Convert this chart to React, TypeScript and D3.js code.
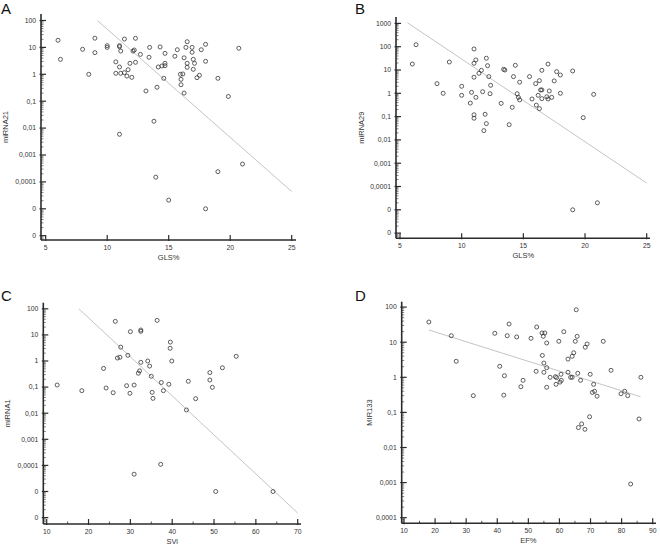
import * as d3 from "d3";

// ---- data ----
const glsA = [6.0, 6.2, 8.0, 8.5, 9.0, 9.0, 10.0, 10.0, 11.0, 11.0, 11.1, 10.7, 11.0, 10.7, 11.1, 11.4, 11.4, 11.6, 11.7, 11.85, 12.0, 12.1, 12.2, 12.3, 12.3, 12.7, 13.15, 13.4, 13.45, 13.8, 14.05, 14.15, 14.3, 14.45, 14.6, 14.7, 14.7, 14.7, 15.5, 15.7, 15.95, 16.0, 16.0, 16.15, 16.25, 16.25, 16.4, 16.5, 16.5, 16.5, 16.9, 16.9, 17.0, 17.1, 17.0, 17.5, 17.3, 17.65, 18.0, 18.0, 19.0, 19.85, 20.7, 11.0, 13.95, 15.0, 18.0, 19.0, 21.0];
const mirna21 = [18.4, 3.6, 8.5, 1.0, 22, 6.4, 11.6, 10, 11.6, 10.6, 7.3, 2.9, 1.87, 1.09, 1.09, 20.5, 1.15, 0.86, 1.48, 2.56, 0.77, 7.3, 8.0, 21.8, 2.8, 5.5, 0.24, 4.3, 10, 0.018, 0.33, 1.87, 10.4, 2.04, 0.71, 6.0, 2.56, 2.09, 4.7, 8.2, 1.0, 0.65, 0.41, 1.03, 4.1, 0.2, 10, 16.3, 2.56, 1.82, 10, 6.6, 3.6, 2.56, 1.53, 0.92, 0.75, 8.2, 13, 3.04, 0.71, 0.15, 9.3, 0.0059, 1.5e-4, 2.1e-5, 1.0e-5, 2.4e-4, 4.6e-4];
const fitXA = [9.2, 25];
const fitYA = [100, 4.4e-5];

const glsB = [6.0, 6.3, 8.0, 8.5, 9.0, 10.0, 10.0, 10.7, 10.8, 11.0, 11.0, 11.0, 11.15, 11.15, 11.0, 11.0, 11.4, 11.6, 11.7, 11.8, 11.9, 12.0, 12.1, 12.2, 12.0, 12.35, 12.3, 13.2, 13.4, 13.5, 13.85, 14.1, 14.2, 14.35, 14.5, 14.6, 14.7, 14.7, 15.5, 15.7, 16.0, 16.05, 16.2, 16.3, 16.3, 16.4, 16.5, 16.5, 16.5, 16.9, 17.0, 17.0, 17.1, 17.3, 17.5, 17.7, 18.0, 18.0, 19.0, 19.85, 20.7, 19.0, 21.0];
const mirna29 = [18, 122, 2.6, 1.0, 22, 2.0, 0.82, 0.38, 1.1, 80, 19.4, 4.9, 27, 0.67, 0.12, 0.085, 7.2, 9.7, 1.17, 0.025, 0.126, 32, 15.3, 5.2, 0.05, 2.2, 0.96, 0.37, 10.7, 10, 0.045, 0.25, 5.2, 15.9, 0.96, 0.67, 0.52, 3.0, 5.2, 0.57, 2.6, 0.31, 0.82, 3.5, 0.22, 1.39, 1.39, 9.7, 0.59, 0.71, 18, 0.57, 1.26, 0.67, 3.4, 8.5, 6.1, 1.0, 9.1, 0.09, 0.9, 1e-5, 2e-5];
const fitXB = [5.6, 25];
const fitYB = [1070, 1.4e-4];

const sviC = [12.5, 18.4, 23.6, 24.2, 25.9, 26.4, 26.9, 27.5, 27.7, 29.1, 29.4, 29.9, 30.0, 30.9, 31.9, 32.2, 32.5, 32.5, 32.5, 34.15, 34.6, 35.0, 35.2, 35.4, 36.4, 37.4, 37.9, 39.2, 39.55, 39.5, 39.9, 43.4, 43.85, 45.6, 49.0, 49.0, 49.6, 52.0, 55.3, 30.9, 37.25, 50.4, 64.1];
const mirna1 = [0.12, 0.073, 0.52, 0.092, 0.061, 33, 1.3, 1.39, 3.4, 0.113, 1.65, 0.058, 13.3, 0.12, 0.34, 0.42, 15.4, 13.7, 0.89, 1.0, 0.64, 0.26, 0.063, 0.037, 36, 0.15, 0.073, 0.128, 5.3, 3.07, 1.0, 0.0133, 0.167, 0.036, 0.36, 0.187, 0.098, 0.55, 1.51, 4.6e-5, 1.1e-4, 1e-5, 1e-5];
const fitXC = [17.7, 70];
const fitYC = [100, 1.5e-6];

const efD = [18.0, 25.2, 26.8, 32.3, 39.2, 40.8, 42.1, 42.3, 43.2, 43.8, 46.25, 47.6, 48.3, 50.85, 52.5, 52.7, 54.4, 54.8, 55.3, 54.5, 55.0, 55.0, 55.9, 55.9, 55.9, 57.0, 58.7, 58.9, 59.1, 59.8, 60.2, 60.5, 60.6, 61.4, 62.75, 62.75, 63.6, 64.1, 64.1, 64.6, 65.1, 65.4, 65.7, 65.9, 66.8, 68.3, 68.9, 69.9, 70.6, 71.0, 71.3, 72.1, 69.7, 74.1, 76.6, 79.8, 81.0, 81.95, 85.6, 86.2, 66.1, 67.15, 68.2, 82.9];
const mir133 = [37.6, 15.3, 2.86, 0.3, 17.9, 2.06, 0.31, 1.11, 15.3, 33, 14.1, 0.54, 0.82, 12.9, 1.48, 27.1, 18.3, 14.7, 18.3, 4.2, 2.55, 1.39, 9.5, 1.88, 0.52, 1.0, 1.04, 0.63, 0.98, 10.6, 0.73, 1.22, 0.82, 19.9, 3.3, 1.39, 1.0, 1.0, 3.97, 5.0, 10.6, 84, 14.7, 1.3, 0.82, 7.2, 8.9, 1.22, 0.37, 0.63, 0.4, 0.29, 0.075, 10.6, 1.58, 0.34, 0.4, 0.3, 0.065, 1.0, 0.037, 0.047, 0.033, 0.00091];
const fitXD = [18, 86.1];
const fitYD = [22.3, 0.28];

// ticks
const glsTicks = [5, 10, 15, 20, 25];
const sviTicks = [10, 20, 30, 40, 50, 60, 70];
const efTicks = [10, 20, 30, 40, 50, 60, 70, 80, 90];
const logTicks6to2 = [1e-6, 1e-5, 1e-4, 1e-3, 1e-2, 0.1, 1, 10, 100];
const logLabels6to2 = ["0", "0", "0,0001", "0,001", "0,01", "0,1", "1", "10", "100"];
const logTicks6to3 = [1e-6, 1e-5, 1e-4, 1e-3, 1e-2, 0.1, 1, 10, 100, 1000];
const logLabels6to3 = ["0", "0", "0,0001", "0,001", "0,01", "0,1", "1", "10", "100", "1000"];
const logTicks4to2 = [1e-4, 1e-3, 1e-2, 0.1, 1, 10, 100];
const logLabels4to2 = ["0,0001", "0,001", "0,01", "0,1", "1", "10", "100"];

const FONT = "'Liberation Sans', Arial, sans-serif";
const INK = "#2b2b2b";

const panels = [
  {
    letter: "A", lx: 1, ly: 14,
    xs: glsA, ys: mirna21, fx: fitXA, fy: fitYA,
    xTicks: glsTicks, xMinor: false, yTicks: logTicks6to2, yLabels: logLabels6to2,
    xLabel: "GLS%", yLabel: "miRNA21",
    axisX: 41, axisTop: 14, axisY: 240, axisRight: 296,
    xRange: [45.7, 291.7], yRange: [235.7, 20.5], yLabelX: 8,
  },
  {
    letter: "B", lx: 355, ly: 14,
    xs: glsB, ys: mirna29, fx: fitXB, fy: fitYB,
    xTicks: glsTicks, xMinor: false, yTicks: logTicks6to3, yLabels: logLabels6to3,
    xLabel: "GLS%", yLabel: "miRNA29",
    axisX: 396, axisTop: 17, axisY: 238.3, axisRight: 650,
    xRange: [400, 646.7], yRange: [233.1, 23.4], yLabelX: 364,
  },
  {
    letter: "C", lx: 1, ly: 300.7,
    xs: sviC, ys: mirna1, fx: fitXC, fy: fitYC,
    xTicks: sviTicks, xMinor: true, yTicks: logTicks6to2, yLabels: logLabels6to2,
    xLabel: "SVi", yLabel: "miRNA1",
    axisX: 43.3, axisTop: 302.7, axisY: 524, axisRight: 301,
    xRange: [46.7, 297.7], yRange: [517.6, 308.8], yLabelX: 9.5,
  },
  {
    letter: "D", lx: 355, ly: 300.7,
    xs: efD, ys: mir133, fx: fitXD, fy: fitYD,
    xTicks: efTicks, xMinor: true, yTicks: logTicks4to2, yLabels: logLabels4to2,
    xLabel: "EF%", yLabel: "MIR133",
    axisX: 401.7, axisTop: 301.7, axisY: 523.3, axisRight: 656,
    xRange: [404, 652.7], yRange: [517.7, 307.1], yLabelX: 372,
  },
];

const Panel = ({ p }) => {
  const x = d3.scaleLinear().domain(d3.extent(p.xTicks)).range(p.xRange);
  const y = d3.scaleLog().domain(d3.extent(p.yTicks)).range(p.yRange);

  // log minor ticks (2..9 per decade) within the drawn axis
  const lo = Math.floor(Math.log10(y.invert(p.axisY))) - 1;
  const hi = Math.ceil(Math.log10(y.invert(p.axisTop))) + 1;
  const minor = [];
  for (let d = lo; d <= hi; d++) {
    for (let k = 2; k <= 9; k++) {
      const v = k * Math.pow(10, d);
      const py = y(v);
      if (py >= p.axisTop && py <= p.axisY) minor.push(v);
    }
  }
  const xMinorTicks = p.xMinor
    ? d3.pairs(p.xTicks).map(([a, b]) => (a + b) / 2)
    : [];

  const fit = d3
    .line()
    .x((d) => x(d[0]))
    .y((d) => y(d[1]))(d3.zip(p.fx, p.fy));

  const midY = (p.axisTop + p.axisY) / 2;
  const midX = (p.xRange[0] + p.xRange[1]) / 2;

  return (
    <g>
      <text x={p.lx} y={p.ly} fontSize={15} fontFamily={FONT} fill="#111">
        {p.letter}
      </text>

      {/* regression line */}
      <path d={fit} fill="none" stroke="#bdbdbd" strokeWidth={0.9} />

      {/* points */}
      {p.xs.map((v, i) => (
        <circle
          key={i}
          cx={x(v)}
          cy={y(p.ys[i])}
          r={2}
          fill="none"
          stroke={INK}
          strokeWidth={0.75}
        />
      ))}

      {/* y axis */}
      <line x1={p.axisX} x2={p.axisX} y1={p.axisTop} y2={p.axisY} stroke={INK} strokeWidth={1.6} />
      {minor.map((v, i) => (
        <line key={"m" + i} x1={p.axisX} x2={p.axisX + 2.5} y1={y(v)} y2={y(v)} stroke={INK} strokeWidth={0.6} />
      ))}
      {p.yTicks.map((v, i) => (
        <g key={"y" + i}>
          <line x1={p.axisX - 1.5} x2={p.axisX + 5} y1={y(v)} y2={y(v)} stroke={INK} strokeWidth={1.2} />
          <text
            x={p.axisX - 5}
            y={y(v)}
            dy="0.35em"
            textAnchor="end"
            fontSize={6.8}
            fontFamily={FONT}
            fill="#333"
          >
            {p.yLabels[i]}
          </text>
        </g>
      ))}

      {/* x axis */}
      <line x1={p.axisX} x2={p.axisRight} y1={p.axisY} y2={p.axisY} stroke={INK} strokeWidth={1.6} />
      {xMinorTicks.map((v, i) => (
        <line key={"xm" + i} x1={x(v)} x2={x(v)} y1={p.axisY - 2.5} y2={p.axisY} stroke={INK} strokeWidth={0.8} />
      ))}
      {p.xTicks.map((v, i) => (
        <g key={"x" + i}>
          <line x1={x(v)} x2={x(v)} y1={p.axisY - 5} y2={p.axisY + 1} stroke={INK} strokeWidth={1.2} />
          <text
            x={x(v)}
            y={p.axisY + 10}
            textAnchor="middle"
            fontSize={6.8}
            fontFamily={FONT}
            fill="#333"
          >
            {v}
          </text>
        </g>
      ))}

      {/* axis titles */}
      <text x={midX} y={p.axisY + 20} textAnchor="middle" fontSize={7.5} fontFamily={FONT} fill="#333">
        {p.xLabel}
      </text>
      <text
        transform={`translate(${p.yLabelX},${midY}) rotate(-90)`}
        textAnchor="middle"
        fontSize={7.5}
        fontFamily={FONT}
        fill="#333"
      >
        {p.yLabel}
      </text>
    </g>
  );
};

export default function App() {
  return (
    <div style={{ position: "absolute", left: 0, top: 0, background: "#fff" }}>
      <svg width={660} height={546} style={{ display: "block" }}>
        <rect width={660} height={546} fill="#fff" />
        {panels.map((p) => (
          <Panel key={p.letter} p={p} />
        ))}
      </svg>
    </div>
  );
}
